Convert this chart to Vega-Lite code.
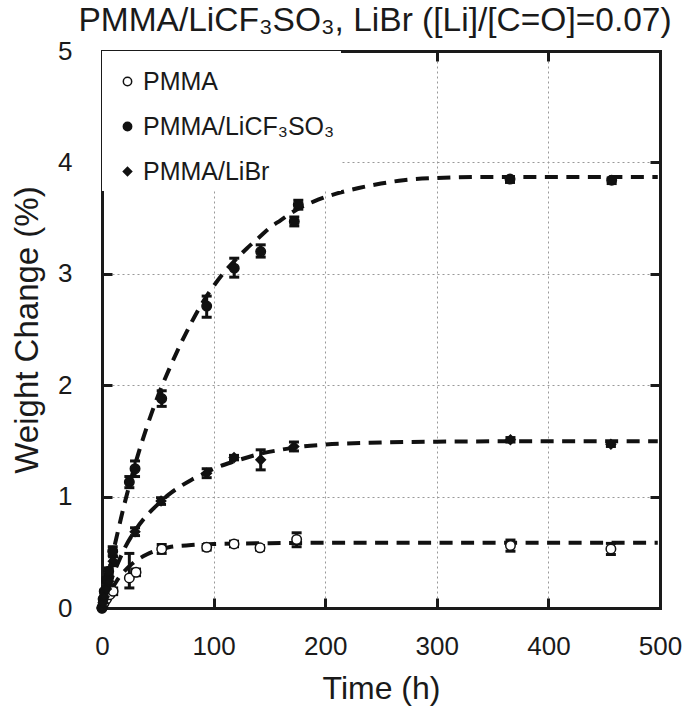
{
  "$schema": "https://vega.github.io/schema/vega-lite/v6.json",
  "width": 558,
  "height": 557,
  "autosize": "none",
  "padding": {"left": 102, "top": 51, "right": 25, "bottom": 107},
  "background": "white",
  "title": {"text": "PMMA/LiCF₃SO₃, LiBr ([Li]/[C=O]=0.07)", "fontSize": 33.5, "font": "Liberation Sans", "fontWeight": "normal", "color": "#1a1a1a", "offset": 0, "dx": -6, "anchor": "middle", "frame": "group"},
  "config": {"view": {"stroke": null}, "font": "Liberation Sans"},
  "datasets": {
    "curves": [
      {"series": "PMMA/LiCF₃SO₃", "t": 0, "v": 0}, {"series": "PMMA/LiCF₃SO₃", "t": 2, "v": 0.1}, {"series": "PMMA/LiCF₃SO₃", "t": 5, "v": 0.25}, {"series": "PMMA/LiCF₃SO₃", "t": 10, "v": 0.5}, {"series": "PMMA/LiCF₃SO₃", "t": 15, "v": 0.72}, {"series": "PMMA/LiCF₃SO₃", "t": 20, "v": 0.93}, {"series": "PMMA/LiCF₃SO₃", "t": 25, "v": 1.12}, {"series": "PMMA/LiCF₃SO₃", "t": 30, "v": 1.3}, {"series": "PMMA/LiCF₃SO₃", "t": 40, "v": 1.62}, {"series": "PMMA/LiCF₃SO₃", "t": 50, "v": 1.9}, {"series": "PMMA/LiCF₃SO₃", "t": 60, "v": 2.14}, {"series": "PMMA/LiCF₃SO₃", "t": 70, "v": 2.36}, {"series": "PMMA/LiCF₃SO₃", "t": 80, "v": 2.56}, {"series": "PMMA/LiCF₃SO₃", "t": 90, "v": 2.74}, {"series": "PMMA/LiCF₃SO₃", "t": 100, "v": 2.89}, {"series": "PMMA/LiCF₃SO₃", "t": 110, "v": 3.02}, {"series": "PMMA/LiCF₃SO₃", "t": 120, "v": 3.13}, {"series": "PMMA/LiCF₃SO₃", "t": 130, "v": 3.23}, {"series": "PMMA/LiCF₃SO₃", "t": 140, "v": 3.32}, {"series": "PMMA/LiCF₃SO₃", "t": 150, "v": 3.41}, {"series": "PMMA/LiCF₃SO₃", "t": 160, "v": 3.48}, {"series": "PMMA/LiCF₃SO₃", "t": 175, "v": 3.58}, {"series": "PMMA/LiCF₃SO₃", "t": 190, "v": 3.65}, {"series": "PMMA/LiCF₃SO₃", "t": 210, "v": 3.72}, {"series": "PMMA/LiCF₃SO₃", "t": 230, "v": 3.77}, {"series": "PMMA/LiCF₃SO₃", "t": 250, "v": 3.81}, {"series": "PMMA/LiCF₃SO₃", "t": 270, "v": 3.84}, {"series": "PMMA/LiCF₃SO₃", "t": 300, "v": 3.86}, {"series": "PMMA/LiCF₃SO₃", "t": 350, "v": 3.87}, {"series": "PMMA/LiCF₃SO₃", "t": 400, "v": 3.87}, {"series": "PMMA/LiCF₃SO₃", "t": 450, "v": 3.87}, {"series": "PMMA/LiCF₃SO₃", "t": 498, "v": 3.87},
      {"series": "PMMA/LiBr", "t": 0, "v": 0}, {"series": "PMMA/LiBr", "t": 2, "v": 0.07}, {"series": "PMMA/LiBr", "t": 5, "v": 0.16}, {"series": "PMMA/LiBr", "t": 10, "v": 0.3}, {"series": "PMMA/LiBr", "t": 15, "v": 0.42}, {"series": "PMMA/LiBr", "t": 20, "v": 0.53}, {"series": "PMMA/LiBr", "t": 30, "v": 0.7}, {"series": "PMMA/LiBr", "t": 40, "v": 0.83}, {"series": "PMMA/LiBr", "t": 50, "v": 0.93}, {"series": "PMMA/LiBr", "t": 60, "v": 1.02}, {"series": "PMMA/LiBr", "t": 70, "v": 1.09}, {"series": "PMMA/LiBr", "t": 80, "v": 1.15}, {"series": "PMMA/LiBr", "t": 90, "v": 1.2}, {"series": "PMMA/LiBr", "t": 100, "v": 1.25}, {"series": "PMMA/LiBr", "t": 120, "v": 1.32}, {"series": "PMMA/LiBr", "t": 140, "v": 1.38}, {"series": "PMMA/LiBr", "t": 160, "v": 1.42}, {"series": "PMMA/LiBr", "t": 180, "v": 1.45}, {"series": "PMMA/LiBr", "t": 200, "v": 1.467}, {"series": "PMMA/LiBr", "t": 250, "v": 1.485}, {"series": "PMMA/LiBr", "t": 300, "v": 1.493}, {"series": "PMMA/LiBr", "t": 400, "v": 1.497}, {"series": "PMMA/LiBr", "t": 498, "v": 1.497},
      {"series": "PMMA", "t": 0, "v": 0}, {"series": "PMMA", "t": 2, "v": 0.04}, {"series": "PMMA", "t": 5, "v": 0.1}, {"series": "PMMA", "t": 10, "v": 0.19}, {"series": "PMMA", "t": 15, "v": 0.27}, {"series": "PMMA", "t": 20, "v": 0.33}, {"series": "PMMA", "t": 25, "v": 0.38}, {"series": "PMMA", "t": 30, "v": 0.42}, {"series": "PMMA", "t": 40, "v": 0.48}, {"series": "PMMA", "t": 50, "v": 0.52}, {"series": "PMMA", "t": 60, "v": 0.545}, {"series": "PMMA", "t": 80, "v": 0.565}, {"series": "PMMA", "t": 100, "v": 0.575}, {"series": "PMMA", "t": 150, "v": 0.582}, {"series": "PMMA", "t": 200, "v": 0.585}, {"series": "PMMA", "t": 300, "v": 0.585}, {"series": "PMMA", "t": 400, "v": 0.585}, {"series": "PMMA", "t": 498, "v": 0.585}
    ],
    "points": [
      {"series": "PMMA", "t": 0, "v": 0, "lo": 0, "hi": 0}, {"series": "PMMA", "t": 1, "v": 0.03, "lo": 0.03, "hi": 0.03}, {"series": "PMMA", "t": 2, "v": 0.05, "lo": 0.05, "hi": 0.05}, {"series": "PMMA", "t": 4, "v": 0.08, "lo": 0.08, "hi": 0.08}, {"series": "PMMA", "t": 7, "v": 0.12, "lo": 0.11, "hi": 0.13}, {"series": "PMMA", "t": 10, "v": 0.15, "lo": 0.12, "hi": 0.18}, {"series": "PMMA", "t": 24.5, "v": 0.27, "lo": 0.18, "hi": 0.49}, {"series": "PMMA", "t": 30.5, "v": 0.32, "lo": 0.29, "hi": 0.35}, {"series": "PMMA", "t": 53.5, "v": 0.53, "lo": 0.49, "hi": 0.57}, {"series": "PMMA", "t": 93.8, "v": 0.545, "lo": 0.52, "hi": 0.57}, {"series": "PMMA", "t": 118.3, "v": 0.575, "lo": 0.55, "hi": 0.6}, {"series": "PMMA", "t": 141.6, "v": 0.54, "lo": 0.52, "hi": 0.56}, {"series": "PMMA", "t": 174.4, "v": 0.615, "lo": 0.55, "hi": 0.675}, {"series": "PMMA", "t": 366, "v": 0.56, "lo": 0.51, "hi": 0.61}, {"series": "PMMA", "t": 456, "v": 0.53, "lo": 0.48, "hi": 0.58},
      {"series": "PMMA/LiCF₃SO₃", "t": 0, "v": 0, "lo": 0, "hi": 0}, {"series": "PMMA/LiCF₃SO₃", "t": 1, "v": 0.08, "lo": 0.08, "hi": 0.08}, {"series": "PMMA/LiCF₃SO₃", "t": 2, "v": 0.15, "lo": 0.14, "hi": 0.16}, {"series": "PMMA/LiCF₃SO₃", "t": 4, "v": 0.25, "lo": 0.23, "hi": 0.27}, {"series": "PMMA/LiCF₃SO₃", "t": 6, "v": 0.33, "lo": 0.3, "hi": 0.36}, {"series": "PMMA/LiCF₃SO₃", "t": 9.6, "v": 0.51, "lo": 0.47, "hi": 0.55}, {"series": "PMMA/LiCF₃SO₃", "t": 24.5, "v": 1.13, "lo": 1.08, "hi": 1.18}, {"series": "PMMA/LiCF₃SO₃", "t": 29.6, "v": 1.25, "lo": 1.18, "hi": 1.32}, {"series": "PMMA/LiCF₃SO₃", "t": 53.5, "v": 1.88, "lo": 1.81, "hi": 1.95}, {"series": "PMMA/LiCF₃SO₃", "t": 93.8, "v": 2.71, "lo": 2.61, "hi": 2.8}, {"series": "PMMA/LiCF₃SO₃", "t": 118.5, "v": 3.05, "lo": 2.97, "hi": 3.14}, {"series": "PMMA/LiCF₃SO₃", "t": 142.2, "v": 3.2, "lo": 3.15, "hi": 3.26}, {"series": "PMMA/LiCF₃SO₃", "t": 172.3, "v": 3.47, "lo": 3.43, "hi": 3.51}, {"series": "PMMA/LiCF₃SO₃", "t": 175.9, "v": 3.62, "lo": 3.58, "hi": 3.66}, {"series": "PMMA/LiCF₃SO₃", "t": 365.6, "v": 3.85, "lo": 3.82, "hi": 3.87}, {"series": "PMMA/LiCF₃SO₃", "t": 456.7, "v": 3.84, "lo": 3.81, "hi": 3.86},
      {"series": "PMMA/LiBr", "t": 0, "v": 0, "lo": 0, "hi": 0}, {"series": "PMMA/LiBr", "t": 1, "v": 0.05, "lo": 0.05, "hi": 0.05}, {"series": "PMMA/LiBr", "t": 2, "v": 0.1, "lo": 0.09, "hi": 0.11}, {"series": "PMMA/LiBr", "t": 4, "v": 0.17, "lo": 0.15, "hi": 0.19}, {"series": "PMMA/LiBr", "t": 6, "v": 0.24, "lo": 0.21, "hi": 0.27}, {"series": "PMMA/LiBr", "t": 10, "v": 0.42, "lo": 0.38, "hi": 0.46}, {"series": "PMMA/LiBr", "t": 29.6, "v": 0.685, "lo": 0.65, "hi": 0.72}, {"series": "PMMA/LiBr", "t": 52.9, "v": 0.96, "lo": 0.93, "hi": 0.99}, {"series": "PMMA/LiBr", "t": 93.8, "v": 1.21, "lo": 1.17, "hi": 1.25}, {"series": "PMMA/LiBr", "t": 118.3, "v": 1.35, "lo": 1.33, "hi": 1.37}, {"series": "PMMA/LiBr", "t": 142.2, "v": 1.33, "lo": 1.24, "hi": 1.42}, {"series": "PMMA/LiBr", "t": 172, "v": 1.45, "lo": 1.41, "hi": 1.49}, {"series": "PMMA/LiBr", "t": 366, "v": 1.51, "lo": 1.49, "hi": 1.53}, {"series": "PMMA/LiBr", "t": 456, "v": 1.47, "lo": 1.45, "hi": 1.49}
    ]
  },
  "layer": [
    {
      "data": {"name": "curves"},
      "mark": {"type": "line", "color": "#111", "strokeWidth": 4, "strokeDash": [13, 8.5], "interpolate": "monotone"},
      "encoding": {
        "x": {"field": "t", "type": "quantitative", "scale": {"domain": [0, 500], "nice": false, "zero": false},
          "axis": {"orient": "bottom", "values": [0, 100, 200, 300, 400, 500], "tickSize": -10, "tickWidth": 3, "tickColor": "#1a1a1a", "domainWidth": 3, "domainColor": "#1a1a1a", "domainCap": "square", "labelFontSize": 26, "labelPadding": 35, "labelColor": "#1a1a1a", "labelFlush": false, "labelOverlap": false, "title": "Time (h)", "titleFontSize": 32, "titleFontWeight": "normal", "titleColor": "#1a1a1a", "titlePadding": 14, "grid": true, "gridDash": [2, 3], "gridColor": "#999999", "gridWidth": 1}},
        "y": {"field": "v", "type": "quantitative", "scale": {"domain": [0, 5], "nice": false, "zero": false},
          "axis": {"orient": "left", "values": [0, 1, 2, 3, 4, 5], "tickSize": -10, "tickWidth": 3, "tickColor": "#1a1a1a", "domainWidth": 3, "domainColor": "#1a1a1a", "domainCap": "square", "labelFontSize": 26, "labelPadding": 40, "labelColor": "#1a1a1a", "labelFlush": false, "labelOverlap": false, "title": "Weight Change (%)", "titleFontSize": 33, "titleFontWeight": "normal", "titleColor": "#1a1a1a", "titlePadding": 13, "grid": true, "gridDash": [2, 3], "gridColor": "#999999", "gridWidth": 1}},
        "detail": {"field": "series", "type": "nominal"}
      }
    },
    {
      "data": {"name": "points"},
      "mark": {"type": "rule", "color": "#111", "strokeWidth": 3},
      "encoding": {
        "x": {"field": "t", "type": "quantitative", "scale": {"domain": [0, 500], "nice": false, "zero": false},
          "axis": {"orient": "top", "values": [0, 100, 200, 300, 400, 500], "tickSize": -10, "tickWidth": 3, "tickColor": "#1a1a1a", "domainWidth": 3, "domainColor": "#1a1a1a", "domainCap": "square", "labels": false, "title": null, "grid": false}},
        "y": {"field": "lo", "type": "quantitative", "scale": {"domain": [0, 5], "nice": false, "zero": false},
          "axis": {"orient": "right", "values": [0, 1, 2, 3, 4, 5], "tickSize": -10, "tickWidth": 3, "tickColor": "#1a1a1a", "domainWidth": 3, "domainColor": "#1a1a1a", "domainCap": "square", "labels": false, "title": null, "grid": false}},
        "y2": {"field": "hi"}
      }
    },
    {
      "data": {"name": "points"},
      "mark": {"type": "tick", "orient": "horizontal", "color": "#111", "size": 10, "thickness": 3, "opacity": 1},
      "encoding": {
        "x": {"field": "t", "type": "quantitative", "axis": null},
        "y": {"field": "lo", "type": "quantitative", "axis": null}
      }
    },
    {
      "data": {"name": "points"},
      "mark": {"type": "tick", "orient": "horizontal", "color": "#111", "size": 10, "thickness": 3, "opacity": 1},
      "encoding": {
        "x": {"field": "t", "type": "quantitative", "axis": null},
        "y": {"field": "hi", "type": "quantitative", "axis": null}
      }
    },
    {
      "data": {"name": "points"},
      "mark": {"type": "point", "filled": true, "size": 90, "strokeWidth": 1.5, "opacity": 1},
      "encoding": {
        "x": {"field": "t", "type": "quantitative", "axis": null},
        "y": {"field": "v", "type": "quantitative", "axis": null},
        "fill": {"field": "series", "type": "nominal", "scale": {"domain": ["PMMA", "PMMA/LiCF₃SO₃", "PMMA/LiBr"], "range": ["white", "#111", "#111"]},
          "legend": {"orient": "top-left", "offset": 0, "title": " ", "titleFontSize": 6, "titlePadding": 6, "fillColor": "white", "padding": 6, "labelFontSize": 25, "labelFont": "Liberation Sans", "labelColor": "#1a1a1a", "labelLimit": 400, "symbolSize": 70, "symbolStrokeWidth": 1.5, "rowPadding": 19, "labelOffset": 3, "symbolOffset": 7}},
        "stroke": {"field": "series", "type": "nominal", "scale": {"domain": ["PMMA", "PMMA/LiCF₃SO₃", "PMMA/LiBr"], "range": ["#111", "#111", "#111"]},
          "legend": {"orient": "top-left", "offset": 0, "title": " ", "titleFontSize": 6, "titlePadding": 6, "fillColor": "white", "padding": 6, "labelFontSize": 25, "labelFont": "Liberation Sans", "labelColor": "#1a1a1a", "labelLimit": 400, "symbolSize": 70, "symbolStrokeWidth": 1.5, "rowPadding": 19, "labelOffset": 3, "symbolOffset": 7}},
        "shape": {"field": "series", "type": "nominal", "scale": {"domain": ["PMMA", "PMMA/LiCF₃SO₃", "PMMA/LiBr"], "range": ["circle", "circle", "diamond"]},
          "legend": {"orient": "top-left", "offset": 0, "title": " ", "titleFontSize": 6, "titlePadding": 6, "fillColor": "white", "padding": 6, "labelFontSize": 25, "labelFont": "Liberation Sans", "labelColor": "#1a1a1a", "labelLimit": 400, "symbolSize": 70, "symbolStrokeWidth": 1.5, "rowPadding": 19, "labelOffset": 3, "symbolOffset": 7}}
      }
    }
  ],
  "resolve": {"axis": {"x": "independent", "y": "independent"}}
}
